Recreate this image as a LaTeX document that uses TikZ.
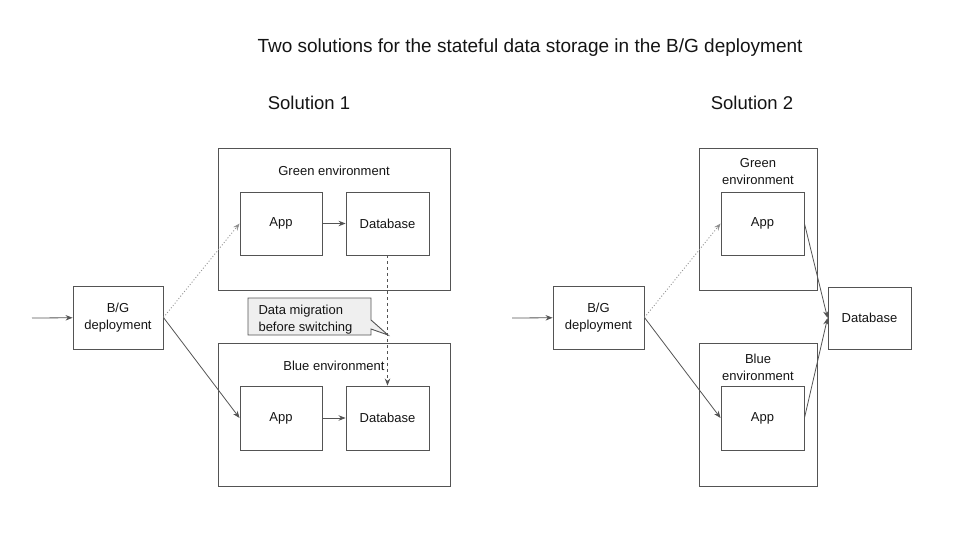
\documentclass[tikz,border=0pt]{standalone}
\usepackage{fontspec}
\setmainfont{Liberation Sans}
\usetikzlibrary{arrows.meta}
\definecolor{edge}{RGB}{84,84,84}
\definecolor{faint}{RGB}{150,150,150}
\definecolor{note}{RGB}{239,239,239}
\definecolor{ink}{RGB}{20,20,20}

\begin{document}
\begin{tikzpicture}[x=1pt,y=-1pt,
  every node/.style={font=\fontsize{13}{17}\selectfont,text=ink},
  box/.style={draw=edge,line width=0.9pt,inner sep=0pt},
  head/.style={font=\fontsize{18.5}{22}\selectfont},
  link/.style={draw=edge,line width=0.8pt,-{Stealth[length=7pt,width=5.5pt]}},
  maybe/.style={draw=faint,line width=0.9pt,dash pattern=on 1pt off 2pt,-{Stealth[length=7pt,width=5.5pt,fill=edge]}}]
\useasboundingbox (0,0) rectangle (960,540);

\node[head,font=\fontsize{19}{22}\selectfont] (title) at (530,47.5) {Two solutions for the stateful data storage in the B/G deployment};
\node[head] (sol1) at (309,103) {Solution 1};
\node[head] (sol2) at (752,103) {Solution 2};

% solution 1
\node[box,minimum width=232,minimum height=142] (green1) at (334,219) {};
\node (green1lbl) at (334,171) {Green environment};
\node[box,minimum width=82,minimum height=63] (gapp1) at (281,223.5) {App};
\node[box,minimum width=83,minimum height=63] (gdb1) at (387.5,223.5) {Database};

\node[box,minimum width=232,minimum height=143] (blue1) at (334,414.5) {};
\node (blue1lbl) at (334,366) {Blue environment};
\node[box,minimum width=82,minimum height=64] (bapp1) at (281,418) {App};
\node[box,minimum width=83,minimum height=64] (bdb1) at (387.5,418) {Database};

\node[box,minimum width=90,minimum height=63,align=center] (bg1) at (118,317.5) {B/G\\deployment};
\coordinate (in1) at (32,318);

\coordinate (calloutTip) at (388,335);
\fill[note] (248,298) -- (371,298) -- (371,320) -- (calloutTip) -- (371,329) -- (371,335) -- (248,335) -- cycle;
\draw[edge,line width=0.9pt] (248,298) -- (371,298) -- (371,320) -- (calloutTip) -- (371,329) -- (371,335) -- (248,335) -- cycle;
\node[align=left,anchor=west] (callout) at (255,319.5) {Data migration\\before switching};

\draw[link] (in1) -- (bg1);
\draw[maybe] (bg1.east) -- (gapp1.west);
\draw[link] (bg1.east) -- (bapp1.west);
\draw[link] (gapp1) -- (gdb1);
\draw[link] (bapp1) -- (bdb1);
\draw[link,dash pattern=on 3pt off 3pt] (gdb1) -- (bdb1);

% solution 2
\node[box,minimum width=118,minimum height=142] (green2) at (758,219) {};
\node[align=center] (green2lbl) at (758,171.5) {Green\\environment};
\node[box,minimum width=83,minimum height=63] (gapp2) at (762.5,223.5) {App};

\node[box,minimum width=118,minimum height=143] (blue2) at (758,414.5) {};
\node[align=center] (blue2lbl) at (758,367.5) {Blue\\environment};
\node[box,minimum width=83,minimum height=64] (bapp2) at (762.5,418) {App};

\node[box,minimum width=83,minimum height=62] (db2) at (869.5,318) {Database};

\node[box,minimum width=91,minimum height=63,align=center] (bg2) at (598.5,317.5) {B/G\\deployment};
\coordinate (in2) at (512,318);

\draw[link] (in2) -- (bg2);
\draw[maybe] (bg2.east) -- (gapp2.west);
\draw[link] (bg2.east) -- (bapp2.west);
\draw[link] (gapp2.east) -- (db2.west);
\draw[link] (bapp2.east) -- (db2.west);
\end{tikzpicture}
\end{document}
